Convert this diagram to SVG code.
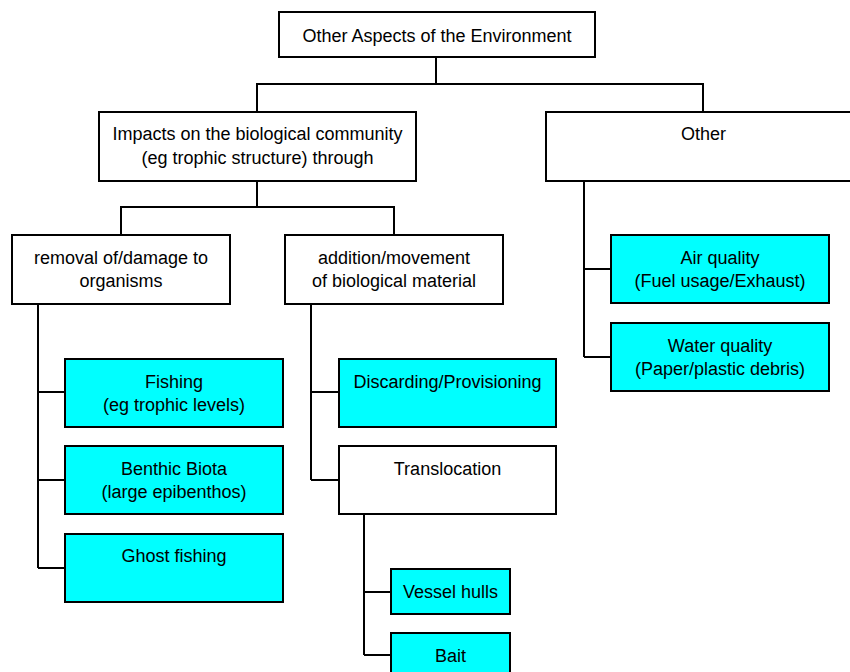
<svg xmlns="http://www.w3.org/2000/svg" width="850" height="672" viewBox="0 0 850 672">
<style>
.box{fill:#ffffff;stroke:#000000;stroke-width:2}
.leaf{fill:#00ffff;stroke:#000000;stroke-width:2}
.lbl{font-family:"Liberation Sans",Arial,sans-serif;font-size:18px;fill:#000000;text-anchor:middle}
.conn{fill:none;stroke:#000000;stroke-width:2}
</style>
<rect width="850" height="672" fill="#ffffff"/>
<g id="connectors">
<path class="conn" d="M436 57 V84 M257 112 V84 H703 V112"/>
<path class="conn" d="M257 181 V207 M121 235 V207 H394 V235"/>
<path class="conn" d="M38 304 V568 M38 392 H65 M38 480 H65 M38 568 H65"/>
<path class="conn" d="M311 304 V480 M311 392 H339 M311 480 H339"/>
<path class="conn" d="M364 514 V655 M364 592 H391 M364 655 H391"/>
<path class="conn" d="M584 181 V357 M584 269 H611 M584 357 H611"/>
</g>
<g id="root">
<rect class="box" x="279" y="12" width="316" height="45"/>
<text class="lbl" x="437" y="41.5">Other Aspects of the Environment</text>
</g>
<g id="impacts">
<rect class="box" x="99" y="112" width="317" height="69"/>
<text class="lbl" x="257.5" y="140">Impacts on the biological community</text>
<text class="lbl" x="257.5" y="163.5">(eg trophic structure) through</text>
</g>
<g id="other">
<rect class="box" x="546" y="112" width="316" height="69"/>
<text class="lbl" x="703.5" y="140">Other</text>
</g>
<g id="removal">
<rect class="box" x="12" y="235" width="218" height="69"/>
<text class="lbl" x="121" y="264">removal of/damage to</text>
<text class="lbl" x="121" y="287">organisms</text>
</g>
<g id="addition">
<rect class="box" x="285" y="235" width="218" height="69"/>
<text class="lbl" x="394" y="264">addition/movement</text>
<text class="lbl" x="394" y="287">of biological material</text>
</g>
<g id="air">
<rect class="leaf" x="611" y="235" width="218" height="68"/>
<text class="lbl" x="720" y="263.5">Air quality</text>
<text class="lbl" x="720" y="286.5">(Fuel usage/Exhaust)</text>
</g>
<g id="water">
<rect class="leaf" x="611" y="323" width="218" height="68"/>
<text class="lbl" x="720" y="351.5">Water quality</text>
<text class="lbl" x="720" y="374.5">(Paper/plastic debris)</text>
</g>
<g id="fishing">
<rect class="leaf" x="65" y="359" width="218" height="68"/>
<text class="lbl" x="174" y="387.5">Fishing</text>
<text class="lbl" x="174" y="410.5">(eg trophic levels)</text>
</g>
<g id="benthic">
<rect class="leaf" x="65" y="446" width="218" height="68"/>
<text class="lbl" x="174" y="474.5">Benthic Biota</text>
<text class="lbl" x="174" y="497.5">(large epibenthos)</text>
</g>
<g id="ghost">
<rect class="leaf" x="65" y="534" width="218" height="68"/>
<text class="lbl" x="174" y="562">Ghost fishing</text>
</g>
<g id="discarding">
<rect class="leaf" x="339" y="359" width="217" height="68"/>
<text class="lbl" x="447.5" y="387.5">Discarding/Provisioning</text>
</g>
<g id="translocation">
<rect class="box" x="339" y="446" width="217" height="68"/>
<text class="lbl" x="447.5" y="474.5">Translocation</text>
</g>
<g id="vessel">
<rect class="leaf" x="391" y="569" width="119" height="45"/>
<text class="lbl" x="450.5" y="597.5">Vessel hulls</text>
</g>
<g id="bait">
<rect class="leaf" x="391" y="633" width="119" height="50"/>
<text class="lbl" x="450.5" y="662">Bait</text>
</g>
</svg>
